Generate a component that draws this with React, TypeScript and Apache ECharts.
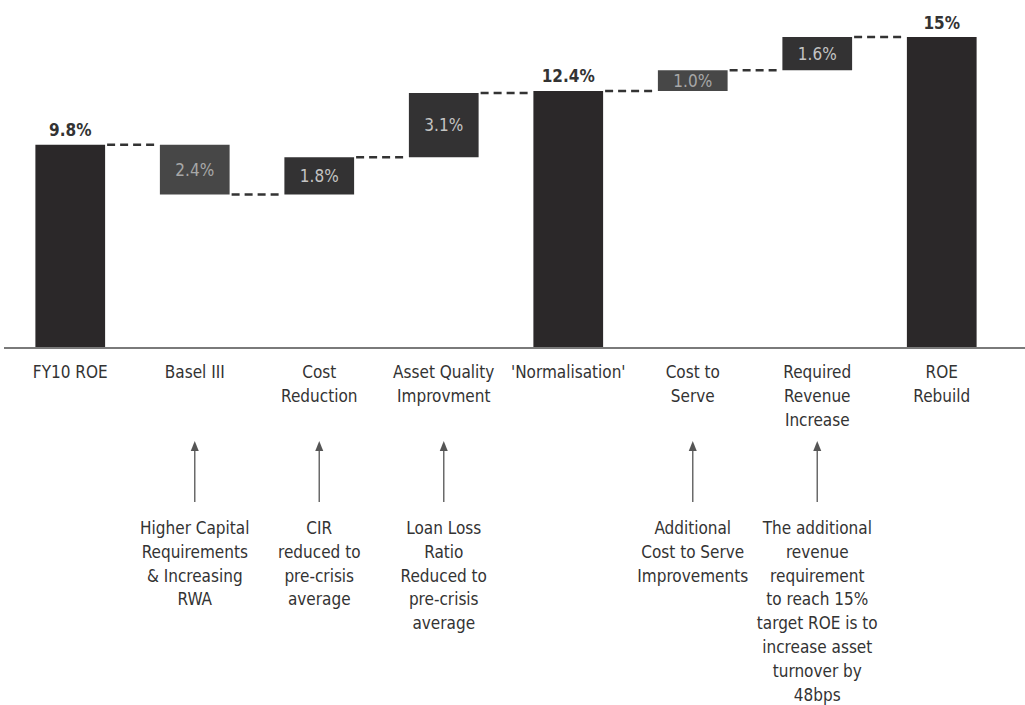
import React, { useEffect, useRef } from "react";
import * as echarts from "echarts";

const categories = [
  "FY10 ROE",
  "Basel III",
  "Cost\nReduction",
  "Asset Quality\nImprovment",
  "'Normalisation'",
  "Cost to\nServe",
  "Required\nRevenue\nIncrease",
  "ROE\nRebuild",
];
const changes = [9.8, -2.4, 1.8, 3.1, 12.4, 1.0, 1.6, 15];
const isTotal = [true, false, false, false, true, false, false, true];
const valueLabels = ["9.8%", "2.4%", "1.8%", "3.1%", "12.4%", "1.0%", "1.6%", "15%"];
const notes = [
  "",
  "Higher Capital\nRequirements\n& Increasing\nRWA",
  "CIR\nreduced to\npre-crisis\naverage",
  "Loan Loss\nRatio\nReduced to\npre-crisis\naverage",
  "",
  "Additional\nCost to Serve\nImprovements",
  "The additional\nrevenue\nrequirement\nto reach 15%\ntarget ROE is to\nincrease asset\nturnover by\n48bps",
  "",
];

const FONT = "'Liberation Sans Narrow', 'DejaVu Sans Condensed', 'Roboto', sans-serif";
const BAR_FRAC = 0.56;

export default function App() {
  const ref = useRef<HTMLDivElement>(null);
  useEffect(() => {
    if (!ref.current) return;
    const chart = echarts.init(ref.current, null, { renderer: "svg" });

    const bases: number[] = [];
    const heights: number[] = [];
    const levels: number[] = [];
    let running = 0;
    changes.forEach((v, i) => {
      if (isTotal[i]) {
        bases.push(0);
        heights.push(v);
        running = v;
      } else if (v < 0) {
        bases.push(running + v);
        heights.push(-v);
        running += v;
      } else {
        bases.push(running);
        heights.push(v);
        running += v;
      }
      levels.push(running);
    });

    const colorFor = (i: number) => {
      if (isTotal[i]) return "#2b2829";
      if (i === 1 || i === 5) return "#474747";
      return "#333233";
    };
    const labelColorFor = (i: number) => (i === 1 || i === 5 ? "#a8a8a8" : "#c4c4c4");

    const connectorData = levels.slice(0, levels.length - 1).map((lv, i) => [i, lv]);
    const noteData = notes
      .map((n, i) => (n ? [i, 0] : null))
      .filter((d) => d !== null) as number[][];

    chart.setOption({
      animation: false,
      backgroundColor: "#ffffff",
      grid: { left: 8, right: 21, top: 37, bottom: 357 },
      xAxis: {
        type: "category",
        data: categories,
        axisLine: { show: false },
        axisTick: { show: false },
        axisLabel: {
          interval: 0,
          margin: 12,
          color: "#333333",
          fontFamily: FONT,
          fontSize: 17,
          lineHeight: 24,
        },
      },
      yAxis: { type: "value", min: 0, max: 15, show: false },
      graphic: [
        {
          type: "line",
          shape: { x1: 4, y1: 348, x2: 1025, y2: 348 },
          style: { stroke: "#7a7a7a", lineWidth: 2 },
          z: 10,
        },
      ],
      series: [
        {
          type: "bar",
          stack: "w",
          barWidth: BAR_FRAC * 100 + "%",
          data: bases,
          itemStyle: { color: "transparent" },
          silent: true,
        },
        {
          type: "bar",
          stack: "w",
          barWidth: BAR_FRAC * 100 + "%",
          data: heights.map((h, i) => ({
            value: h,
            itemStyle: { color: colorFor(i) },
            label: isTotal[i]
              ? {
                  show: true,
                  position: "top",
                  distance: 6,
                  formatter: valueLabels[i],
                  color: "#333333",
                  fontWeight: "bold",
                  fontFamily: FONT,
                  fontSize: 17,
                }
              : {
                  show: true,
                  position: "inside",
                  formatter: valueLabels[i],
                  color: labelColorFor(i),
                  fontFamily: FONT,
                  fontSize: 17,
                },
          })),
        },
        {
          type: "custom",
          data: connectorData,
          z: 5,
          renderItem: (params: any, api: any) => {
            const i = api.value(0);
            const lv = api.value(1);
            const p = api.coord([i, lv]);
            const bw = api.size([1, 0])[0];
            const half = (bw * BAR_FRAC) / 2;
            return {
              type: "line",
              shape: { x1: p[0] + half + 2, y1: p[1], x2: p[0] + bw - half - 2, y2: p[1] },
              style: { stroke: "#333333", lineWidth: 2.5, lineDash: [8, 5] },
            };
          },
        },
        {
          type: "custom",
          data: noteData,
          clip: false,
          renderItem: (params: any, api: any) => {
            const i = api.value(0);
            const p = api.coord([i, 0]);
            const x = p[0];
            const y0 = p[1];
            return {
              type: "group",
              children: [
                {
                  type: "line",
                  shape: { x1: x, y1: y0 + 97, x2: x, y2: y0 + 154 },
                  style: { stroke: "#6a6a6a", lineWidth: 1.5 },
                },
                {
                  type: "polygon",
                  shape: { points: [[x, y0 + 93], [x - 4, y0 + 103], [x + 4, y0 + 103]] },
                  style: { fill: "#555555" },
                },
                {
                  type: "text",
                  x: x,
                  y: y0 + 168,
                  style: {
                    text: notes[i],
                    align: "center",
                    verticalAlign: "top",
                    fill: "#333333",
                    font: "17px " + FONT,
                    lineHeight: 23.8,
                  },
                },
              ],
            };
          },
        },
      ],
    });
    return () => chart.dispose();
  }, []);

  return (
    <div
      ref={ref}
      style={{ position: "absolute", left: 0, top: 0, width: 1025, height: 705, background: "#fff" }}
    />
  );
}
